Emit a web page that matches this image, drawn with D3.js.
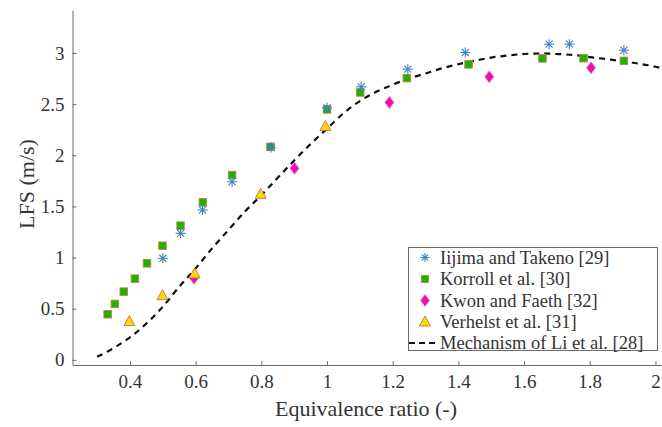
<!DOCTYPE html>
<html>
<head>
<meta charset="utf-8">
<script src="https://cdn.jsdelivr.net/npm/d3@7/dist/d3.min.js"></script>
<style>
  body { margin: 0; background: #fff; }
  svg { display: block; }
  svg text { font-family: "Liberation Serif", "DejaVu Serif", "Noto Serif", "Tinos", "Times New Roman", "Times", "Nimbus Roman", "Nimbus Roman No9 L", "FreeSerif", "Georgia", serif !important; fill: #333; }
</style>
</head>
<body>
<svg id="chart" width="662" height="427"></svg>
<script>
// ---- data ----
const xTicks = [0.4, 0.6, 0.8, 1, 1.2, 1.4, 1.6, 1.8, 2];
const yTicks = [0, 0.5, 1, 1.5, 2, 2.5, 3];

const iijimaPhi = [0.50, 0.554, 0.621, 0.711, 0.83, 1.00, 1.104, 1.246, 1.421, 1.676, 1.738, 1.904];
const iijimaLFS = [0.993, 1.237, 1.465, 1.741, 2.075, 2.464, 2.669, 2.842, 3.005, 3.086, 3.086, 3.027];

const korrollPhi = [0.332, 0.354, 0.381, 0.415, 0.452, 0.499, 0.554, 0.622, 0.711, 0.828, 1.00, 1.101, 1.243, 1.431, 1.656, 1.781, 1.904];
const korrollLFS = [0.446, 0.547, 0.667, 0.794, 0.944, 1.116, 1.312, 1.540, 1.807, 2.083, 2.448, 2.614, 2.754, 2.888, 2.946, 2.949, 2.923];

const kwonPhi = [0.595, 0.901, 1.190, 1.494, 1.804];
const kwonLFS = [0.798, 1.872, 2.517, 2.767, 2.855];

const verhelstPhi = [0.398, 0.499, 0.597, 0.798, 0.995];
const verhelstLFS = [0.374, 0.628, 0.840, 1.618, 2.282];

const mechPhi = [0.30, 0.35, 0.40, 0.45, 0.50, 0.55, 0.60, 0.65, 0.70, 0.75, 0.80, 0.85, 0.90, 0.95, 1.00, 1.05, 1.10, 1.15, 1.20, 1.25, 1.30, 1.35, 1.40, 1.45, 1.50, 1.55, 1.60, 1.65, 1.70, 1.75, 1.80, 1.85, 1.90, 1.95, 2.00, 2.05];
const mechLFS = [0.03, 0.115, 0.22, 0.355, 0.52, 0.715, 0.895, 1.09, 1.27, 1.45, 1.61, 1.78, 1.95, 2.11, 2.26, 2.41, 2.53, 2.62, 2.69, 2.75, 2.80, 2.85, 2.89, 2.925, 2.955, 2.975, 2.99, 2.995, 2.99, 2.98, 2.96, 2.94, 2.92, 2.895, 2.865, 2.83];

const legendLabels = ["Iijima and Takeno [29]", "Korroll et al. [30]", "Kwon and Faeth [32]", "Verhelst et al. [31]", "Mechanism of Li et al. [28]"];

// ---- layout ----
const svg = d3.select("#chart");
const mLeft = 72.5, mRight = 662, mTop = 10, mBottom = 365;
const x = d3.scaleLinear().domain([0.225, 2.02]).range([mLeft, mRight]);
const y = d3.scaleLinear().domain([-0.05, 3.42]).range([mBottom, mTop]);

const axisColor = "#6a6a6a";

// x axis (ticks inward)
const gx = svg.append("g").attr("transform", `translate(0,${mBottom})`)
  .call(d3.axisBottom(x).tickValues(xTicks).tickSizeInner(-4).tickSizeOuter(0).tickPadding(10).tickFormat(d3.format("")));
gx.attr("font-family", null);
gx.select(".domain").attr("stroke", axisColor);
gx.selectAll(".tick line").attr("stroke", axisColor);
gx.selectAll(".tick text").attr("font-size", 19).attr("fill", "#333");

// y axis
const gy = svg.append("g").attr("transform", `translate(${mLeft},0)`)
  .call(d3.axisLeft(y).tickValues(yTicks).tickSizeInner(-4).tickSizeOuter(0).tickPadding(8).tickFormat(d3.format("")));
gy.attr("font-family", null);
gy.select(".domain").attr("stroke", axisColor);
gy.selectAll(".tick line").attr("stroke", axisColor);
gy.selectAll(".tick text").attr("font-size", 19).attr("fill", "#333");

// axis titles
svg.append("text").attr("x", 366).attr("y", 416).attr("text-anchor", "middle")
  .attr("font-size", 22).text("Equivalence ratio (-)");
svg.append("text").attr("transform", `translate(34,184) rotate(-90)`).attr("text-anchor", "middle")
  .attr("font-size", 22).text("LFS (m/s)");

// ---- marker painters ----
function star(g, cx, cy, r) {
  const s = g.append("g").attr("stroke", "#3d82c4").attr("stroke-width", 1.1);
  const d = r * Math.SQRT1_2;
  s.append("line").attr("x1", cx - r).attr("x2", cx + r).attr("y1", cy).attr("y2", cy);
  s.append("line").attr("x1", cx).attr("x2", cx).attr("y1", cy - r).attr("y2", cy + r);
  s.append("line").attr("x1", cx - d).attr("x2", cx + d).attr("y1", cy - d).attr("y2", cy + d);
  s.append("line").attr("x1", cx - d).attr("x2", cx + d).attr("y1", cy + d).attr("y2", cy - d);
}
function square(g, cx, cy, a) {
  g.append("rect").attr("x", cx - a / 2).attr("y", cy - a / 2).attr("width", a).attr("height", a)
    .attr("fill", "#1fb200").attr("stroke", "#b7853f").attr("stroke-width", 0.9);
}
function diamond(g, cx, cy, w, h) {
  g.append("path").attr("d", `M${cx},${cy - h}L${cx + w},${cy}L${cx},${cy + h}L${cx - w},${cy}Z`)
    .attr("fill", "#ec0fb0").attr("stroke", "#f27ac8").attr("stroke-width", 0.9);
}
function triangle(g, cx, cy, w, h) {
  g.append("path").attr("d", `M${cx},${cy - h * 0.6}L${cx + w},${cy + h * 0.4}L${cx - w},${cy + h * 0.4}Z`)
    .attr("fill", "#ffd800").attr("stroke", "#b47a5a").attr("stroke-width", 0.9);
}

// ---- mechanism line ----
svg.append("path")
  .datum(mechPhi.map((p, i) => [p, mechLFS[i]]))
  .attr("d", d3.line().x(d => x(d[0])).y(d => y(d[1])).curve(d3.curveMonotoneX))
  .attr("fill", "none").attr("stroke", "#111").attr("stroke-width", 2.2).attr("stroke-dasharray", "6,5");

// ---- markers ----
const mk = svg.append("g");
korrollPhi.forEach((p, i) => square(mk, x(p), y(korrollLFS[i]), 7.5));
iijimaPhi.forEach((p, i) => star(mk, x(p), y(iijimaLFS[i]), 5));
kwonPhi.forEach((p, i) => diamond(mk, x(p), y(kwonLFS[i]), 4.5, 6));
verhelstPhi.forEach((p, i) => triangle(mk, x(p), y(verhelstLFS[i]), 5.5, 10));

// ---- legend ----
const lg = svg.append("g");
lg.append("rect").attr("x", 408.5).attr("y", 247.5).attr("width", 249).attr("height", 103)
  .attr("fill", "#fff").attr("stroke", "#6a6a6a").attr("stroke-width", 1);
const rowY = [257.5, 279, 300.5, 322, 343];
star(lg, 425, rowY[0], 4.5);
square(lg, 425, rowY[1], 7);
diamond(lg, 425, rowY[2], 4.5, 6);
triangle(lg, 425, rowY[3], 5.5, 10);
lg.append("line").attr("x1", 409).attr("x2", 438).attr("y1", rowY[4]).attr("y2", rowY[4])
  .attr("stroke", "#111").attr("stroke-width", 2.2).attr("stroke-dasharray", "6,4");
legendLabels.forEach((t, i) => {
  lg.append("text").attr("x", 440).attr("y", rowY[i]).attr("dy", "0.35em")
    .attr("font-size", 18.5).text(t);
});
</script>
</body>
</html>
